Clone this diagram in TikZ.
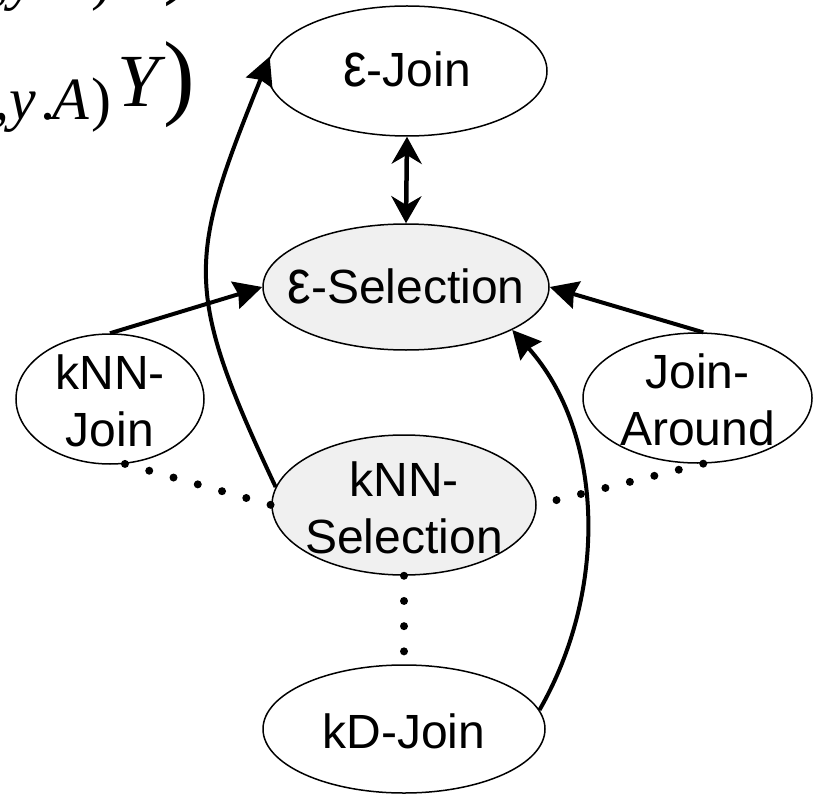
\documentclass[tikz,border=0pt]{standalone}
\usepackage{fontspec}
\usepackage{graphicx}
\setmainfont{Liberation Sans}
\newfontfamily\formfont{Liberation Serif}
\usetikzlibrary{shapes.geometric,arrows.meta}

% tall epsilon used in the operator names
\newcommand{\bigeps}{\scalebox{1.1}[1.3]{ε}}

\tikzset{
  opbox/.style={draw, ellipse, line width=1.5pt, inner sep=0pt},
  opshaded/.style={opbox, fill=gray!12},
  oplabel/.style={font=\fontsize{48}{57}\selectfont, align=center, inner sep=0pt},
  link/.style={line width=4pt, -{Stealth[length=28pt,width=28pt,inset=3pt]}},
  dotline/.style={line width=8pt, line cap=round, dash pattern=on 0pt off 25.2pt},
  fsmall/.style={inner sep=0pt, anchor=base west, font=\formfont\fontsize{60}{60}\selectfont},
  fmid/.style={inner sep=0pt, anchor=base west, font=\formfont\fontsize{75}{75}\selectfont},
  fbig/.style={inner sep=0pt, anchor=base west, font=\formfont\fontsize{95}{95}\selectfont},
}

\begin{document}
\begin{tikzpicture}[x=1pt,y=-1pt]
\useasboundingbox (0,0) rectangle (813,794);
\clip (0,0) rectangle (813,794);

% formula fragments at the top left
\node[fsmall] (f1a) at (-6,-1)  {,};
\node[fsmall] (f1b) at (9,-1)   {\itshape y};
\node[fsmall] (f1c) at (40,-1)  {.};
\node[fsmall] (f1d) at (52,-1)  {\itshape A};
\node[fsmall] (f1e) at (91,-1)  {)};
\node[fbig]   (f1f) at (163,-13) {)};

\node[fsmall] (f2a) at (-6,120) {,};
\node[fsmall] (f2b) at (9,120)  {\itshape y};
\node[fsmall] (f2c) at (40,120) {.};
\node[fsmall] (f2d) at (52,120) {\itshape A};
\node[fsmall] (f2e) at (91,120) {)};
\node[fmid]   (f2f) at (117,107) {\itshape Y};
\node[fbig]   (f2g) at (163,108) {)};

% operator ellipses
\node[opbox,    minimum width=280pt, minimum height=130pt] (ej) at (407,71)  {};
\node[opshaded, minimum width=286pt, minimum height=126pt] (es) at (406,287) {};
\node[opbox,    minimum width=188pt, minimum height=130pt] (kj) at (110,399) {};
\node[opbox,    minimum width=229pt, minimum height=130pt] (ja) at (697.5,398) {};
\node[opshaded, minimum width=264pt, minimum height=140pt] (ks) at (404,505) {};
\node[opbox,    minimum width=282pt, minimum height=128pt] (kd) at (404,729) {};

% operator names
\node[oplabel] (ejt) at ([yshift=2pt]ej.center) {\bigeps-Join};
\node[oplabel] (est) at ([yshift=1pt]es.center) {\bigeps-Selection};
\node[oplabel] (kjt) at ([yshift=-2pt]kj.center) {kNN-\\Join};
\node[oplabel] (jat) at ([yshift=-2pt]ja.center) {Join-\\Around};
\node[oplabel] (kst) at ([yshift=-3pt]ks.center) {kNN-\\Selection};
\node[oplabel] (kdt) at ([yshift=-2pt]kd.center) {kD-Join};

% dotted relations
\draw[dotline] (kj.-77) -- (ks.west);
\draw[dotline] (ja.-85) -- (ks.east);
\draw[dotline] (ks.south) -- (kd.north);

% arrows
\draw[line width=4.5pt, {Stealth[length=27pt,width=30pt]}-{Stealth[length=27pt,width=30pt]}] (ej.south) -- (es.north);
\draw[link] (kj.north) -- (es.west);
\draw[link] (ja.85) -- (es.east);
\draw[link] (ks.172) .. controls +(-93,-198) and +(-82,203) .. (ej.174);
\draw[link] (kd.8) .. controls +(69,-120) and +(92,103) .. (es.-22);
\end{tikzpicture}
\end{document}
